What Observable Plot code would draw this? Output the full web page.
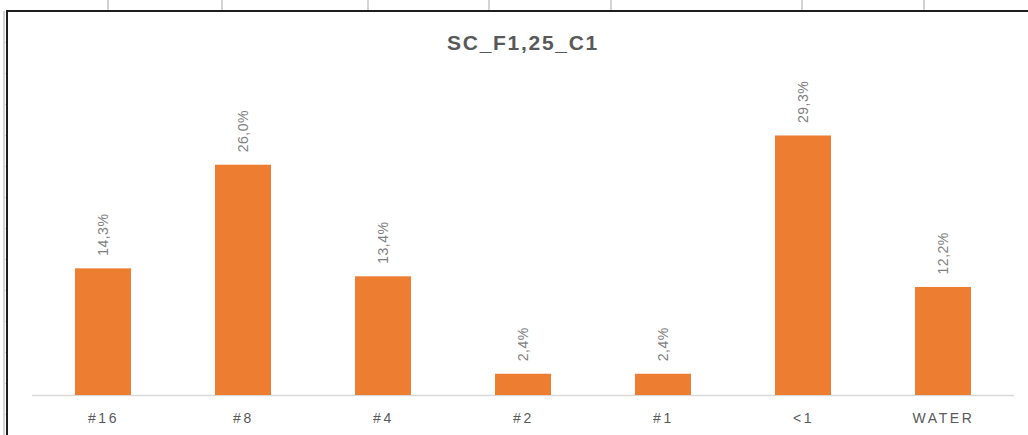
<!DOCTYPE html>
<html>
<head>
<meta charset="utf-8">
<script src="https://cdn.jsdelivr.net/npm/d3@7"></script>
<script src="https://cdn.jsdelivr.net/npm/@observablehq/plot@0.6"></script>
<style>
  html, body { margin: 0; padding: 0; background: #fff; }
  #sheet { position: relative; width: 1028px; height: 435px; overflow: hidden; background: #fff; }
  .col-line { position: absolute; top: 0; width: 2px; height: 11px; background: #d4d4d4; }
  .row-tick { position: absolute; left: 3px; width: 4px; height: 1px; background: #d4d4d4; }
  #left-strip { position: absolute; left: 3px; top: 11px; width: 2px; height: 424px; background: #d4d4d4; }
  #frame { position: absolute; left: 6px; top: 10px; width: 1040px; height: 440px;
           border-left: 2px solid #1e1e1e; border-top: 2px solid #1e1e1e; background: #fff; }
  #title { position: absolute; left: 0; top: 31px; width: 1046px; text-align: center;
           font: bold 21px "Liberation Sans", Arial, sans-serif; letter-spacing: 1.7px; color: #595959; }
  #chart { position: absolute; left: 0; top: 60px; }
  #chart svg { overflow: visible; }
  #chart g[aria-label="x-axis tick label"] text { letter-spacing: 2.6px; fill: #595959; }
  #chart g[aria-label="text"] text { letter-spacing: 0.5px; }
</style>
</head>
<body>
<div id="sheet">
  <div id="left-strip"></div>
  <div id="frame"></div>
  <div id="title"></div>
  <div id="chart"></div>
</div>
<script>
// Size classes and their share of the sample (%)
const categories = ["#16", "#8", "#4", "#2", "#1", "<1", "WATER"];
const shares = [14.3, 26.0, 13.4, 2.4, 2.4, 29.3, 12.2];
const chartTitle = "SC_F1,25_C1";

// Spreadsheet grid behind the chart object
const sheet = document.getElementById("sheet");
for (const x of [108, 222, 368, 489, 611, 802, 924]) {
  const d = document.createElement("div");
  d.className = "col-line";
  d.style.left = (x - 1) + "px";
  sheet.insertBefore(d, sheet.firstChild);
}
for (let y = 42; y < 435; y += 31) {
  const d = document.createElement("div");
  d.className = "row-tick";
  d.style.top = y + "px";
  sheet.insertBefore(d, sheet.firstChild);
}

document.getElementById("title").textContent = chartTitle;

const rows = categories.map((category, i) => ({category, share: shares[i]}));
const fmt = v => v.toFixed(1).replace(".", ",") + "%";

const chart = Plot.plot({
  width: 1028,
  height: 375,
  marginTop: 25,
  marginBottom: 40,
  marginLeft: 32,
  marginRight: 14,
  style: {background: "transparent", fontFamily: "'Liberation Sans', Arial, sans-serif"},
  x: {domain: categories, paddingInner: 0.6, paddingOuter: 0.3, label: null},
  y: {domain: [0, 35], axis: null},
  marks: [
    Plot.ruleY([0], {stroke: "#d9d9d9", strokeWidth: 1.5}),
    Plot.barY(rows, {x: "category", y: "share", fill: "#ED7D31"}),
    Plot.text(rows, {
      x: "category", y: "share", text: d => fmt(d.share),
      rotate: -90, textAnchor: "start", dy: -13,
      fill: "#808080", fontSize: 14
    }),
    Plot.axisX({tickSize: 0, tickPadding: 18, fontSize: 14, label: null})
  ]
});
document.getElementById("chart").appendChild(chart);
</script>
</body>
</html>
